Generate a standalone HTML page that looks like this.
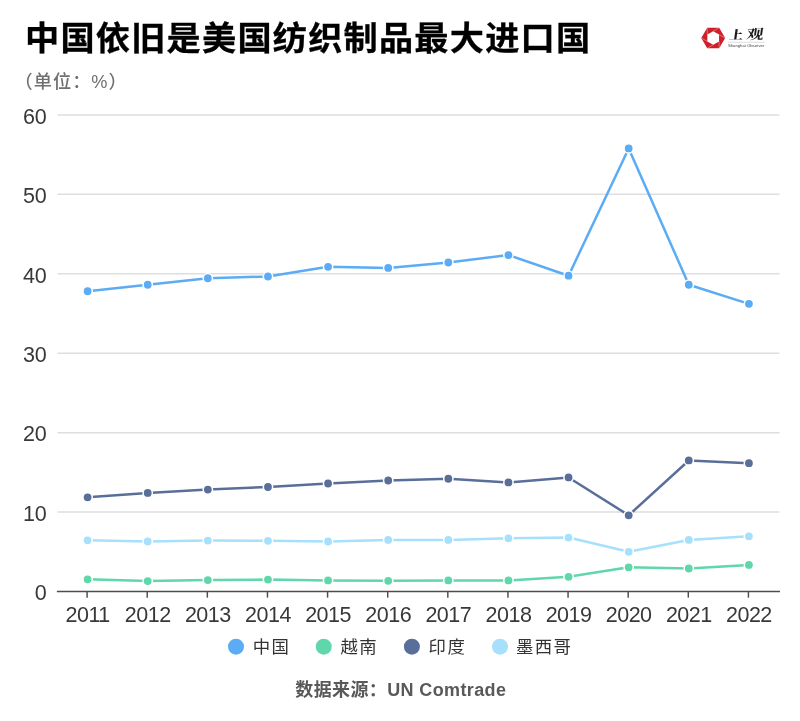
<!DOCTYPE html>
<html lang="zh-CN">
<head>
<meta charset="utf-8">
<title>中国依旧是美国纺织制品最大进口国</title>
<style>
html,body{margin:0;padding:0;background:#fff;}
body{width:800px;height:721px;overflow:hidden;font-family:"Liberation Sans", "Noto Sans CJK SC", sans-serif;}
svg{display:block;will-change:transform;}
svg text{font-family:"Liberation Sans", "Noto Sans CJK SC", sans-serif;}
.title{font-size:34.2px;font-weight:700;fill:#000;stroke:#000;stroke-width:0.3px;letter-spacing:1.2px;}
.sub{font-size:18.2px;font-weight:500;fill:#707070;letter-spacing:1.0px;}
.ylab{font-size:21.5px;fill:#383838;text-anchor:end;}
.xlab{font-size:21.5px;fill:#383838;text-anchor:middle;letter-spacing:-0.5px;}
.leg{font-size:17.4px;fill:#333;letter-spacing:1.4px;}
.src{font-size:18px;font-weight:700;fill:#595959;letter-spacing:0.38px;}
svg text.lg{font-family:"Liberation Serif", "Noto Serif CJK SC", serif;font-size:14px;font-weight:900;fill:#1a1a1a;}
.grid line{stroke:#dedede;stroke-width:1.5;}
.axis line{stroke:#4d4d4d;stroke-width:1.45;}
.ln{fill:none;stroke-width:2.5;stroke-linejoin:round;stroke-linecap:round;}
.pt circle{stroke:#fff;stroke-width:1.5;}
</style>
</head>
<body>
<svg width="800" height="721" viewBox="0 0 800 721">
<text class="title" transform="translate(25.0,50.3) scale(1,0.97)">中国依旧是美国纺织制品最大进口国</text>
<text class="sub" x="14.6" y="87.8">（单位：%）</text>
<g id="logo">
<polygon fill="#CF1F2B" points="725.15,38.00 719.18,48.35 707.23,48.35 701.25,38.00 707.23,27.65 719.18,27.65"/>
<polygon fill="#fff" points="719.05,41.38 713.20,44.75 707.35,41.38 707.35,34.62 713.20,31.25 719.05,34.62"/>
<line x1="713.20" y1="31.25" x2="719.18" y2="27.65" stroke="#fff" stroke-width="0.5" stroke-opacity="0.7"/>
<line x1="719.05" y1="34.62" x2="725.15" y2="38.00" stroke="#fff" stroke-width="0.5" stroke-opacity="0.7"/>
<line x1="719.05" y1="41.38" x2="719.18" y2="48.35" stroke="#fff" stroke-width="0.5" stroke-opacity="0.7"/>
<line x1="713.20" y1="44.75" x2="707.23" y2="48.35" stroke="#fff" stroke-width="0.5" stroke-opacity="0.7"/>
<line x1="707.35" y1="41.38" x2="701.25" y2="38.00" stroke="#fff" stroke-width="0.5" stroke-opacity="0.7"/>
<line x1="707.35" y1="34.62" x2="707.23" y2="27.65" stroke="#fff" stroke-width="0.5" stroke-opacity="0.7"/>
<text class="lg" transform="translate(728.8,38.6) skewX(-8) scale(1.0,0.86)">上</text>
<text class="lg" style="font-weight:700" transform="translate(746.1,38.5) skewX(-8) scale(1.22,0.98)">观</text>
<line x1="727.9" x2="764.8" y1="42.3" y2="42.3" stroke="#c8c8c8" stroke-width="0.6"/>
<text x="727.9" y="47.3" font-size="4.3" fill="#444" textLength="36.4" lengthAdjust="spacingAndGlyphs">Shanghai Observer</text>
</g>
<g class="grid">
<line x1="57.6" x2="779.5" y1="512.11" y2="512.11"/>
<line x1="57.6" x2="779.5" y1="432.67" y2="432.67"/>
<line x1="57.6" x2="779.5" y1="353.23" y2="353.23"/>
<line x1="57.6" x2="779.5" y1="273.79" y2="273.79"/>
<line x1="57.6" x2="779.5" y1="194.35" y2="194.35"/>
<line x1="57.6" x2="779.5" y1="114.91" y2="114.91"/>
</g>
<g>
<text class="ylab" x="46.8" y="600.35">0</text>
<text class="ylab" x="46.8" y="520.91">10</text>
<text class="ylab" x="46.8" y="441.47">20</text>
<text class="ylab" x="46.8" y="362.03">30</text>
<text class="ylab" x="46.8" y="282.59">40</text>
<text class="ylab" x="46.8" y="203.15">50</text>
<text class="ylab" x="46.8" y="123.71">60</text>
</g>
<g class="axis">
<line x1="56.9" x2="780" y1="591.55" y2="591.55"/>
<line x1="87.10" x2="87.10" y1="591.55" y2="597.65" stroke-width="1.5"/>
<line x1="147.22" x2="147.22" y1="591.55" y2="597.65" stroke-width="1.5"/>
<line x1="207.34" x2="207.34" y1="591.55" y2="597.65" stroke-width="1.5"/>
<line x1="267.46" x2="267.46" y1="591.55" y2="597.65" stroke-width="1.5"/>
<line x1="327.58" x2="327.58" y1="591.55" y2="597.65" stroke-width="1.5"/>
<line x1="387.70" x2="387.70" y1="591.55" y2="597.65" stroke-width="1.5"/>
<line x1="447.82" x2="447.82" y1="591.55" y2="597.65" stroke-width="1.5"/>
<line x1="507.94" x2="507.94" y1="591.55" y2="597.65" stroke-width="1.5"/>
<line x1="568.06" x2="568.06" y1="591.55" y2="597.65" stroke-width="1.5"/>
<line x1="628.18" x2="628.18" y1="591.55" y2="597.65" stroke-width="1.5"/>
<line x1="688.30" x2="688.30" y1="591.55" y2="597.65" stroke-width="1.5"/>
<line x1="748.42" x2="748.42" y1="591.55" y2="597.65" stroke-width="1.5"/>
</g>
<g>
<text class="xlab" x="87.60" y="621.6">2011</text>
<text class="xlab" x="147.72" y="621.6">2012</text>
<text class="xlab" x="207.84" y="621.6">2013</text>
<text class="xlab" x="267.96" y="621.6">2014</text>
<text class="xlab" x="328.08" y="621.6">2015</text>
<text class="xlab" x="388.20" y="621.6">2016</text>
<text class="xlab" x="448.32" y="621.6">2017</text>
<text class="xlab" x="508.44" y="621.6">2018</text>
<text class="xlab" x="568.56" y="621.6">2019</text>
<text class="xlab" x="628.68" y="621.6">2020</text>
<text class="xlab" x="688.80" y="621.6">2021</text>
<text class="xlab" x="748.92" y="621.6">2022</text>
</g>
<polyline class="ln" stroke="#5BACF4" points="87.60,291.27 147.72,284.75 207.84,278.24 267.96,276.49 328.08,266.80 388.20,267.91 448.32,262.51 508.44,255.04 568.56,275.70 628.68,148.43 688.80,284.75 748.92,303.82"/>
<g class="pt" fill="#5BACF4">
<circle cx="87.60" cy="291.27" r="4.65"/>
<circle cx="147.72" cy="284.75" r="4.65"/>
<circle cx="207.84" cy="278.24" r="4.65"/>
<circle cx="267.96" cy="276.49" r="4.65"/>
<circle cx="328.08" cy="266.80" r="4.65"/>
<circle cx="388.20" cy="267.91" r="4.65"/>
<circle cx="448.32" cy="262.51" r="4.65"/>
<circle cx="508.44" cy="255.04" r="4.65"/>
<circle cx="568.56" cy="275.70" r="4.65"/>
<circle cx="628.68" cy="148.43" r="4.65"/>
<circle cx="688.80" cy="284.75" r="4.65"/>
<circle cx="748.92" cy="303.82" r="4.65"/>
</g>
<polyline class="ln" stroke="#60D7AA" points="87.60,579.32 147.72,581.06 207.84,580.03 267.96,579.55 328.08,580.43 388.20,580.83 448.32,580.43 508.44,580.43 568.56,576.85 628.68,567.32 688.80,568.51 748.92,564.94"/>
<g class="pt" fill="#60D7AA">
<circle cx="87.60" cy="579.32" r="4.65"/>
<circle cx="147.72" cy="581.06" r="4.65"/>
<circle cx="207.84" cy="580.03" r="4.65"/>
<circle cx="267.96" cy="579.55" r="4.65"/>
<circle cx="328.08" cy="580.43" r="4.65"/>
<circle cx="388.20" cy="580.83" r="4.65"/>
<circle cx="448.32" cy="580.43" r="4.65"/>
<circle cx="508.44" cy="580.43" r="4.65"/>
<circle cx="568.56" cy="576.85" r="4.65"/>
<circle cx="628.68" cy="567.32" r="4.65"/>
<circle cx="688.80" cy="568.51" r="4.65"/>
<circle cx="748.92" cy="564.94" r="4.65"/>
</g>
<polyline class="ln" stroke="#5A6E9A" points="87.60,497.33 147.72,492.89 207.84,489.55 267.96,487.01 328.08,483.51 388.20,480.49 448.32,478.75 508.44,482.40 568.56,477.47 628.68,515.29 688.80,460.47 748.92,463.17"/>
<g class="pt" fill="#5A6E9A">
<circle cx="87.60" cy="497.33" r="4.65"/>
<circle cx="147.72" cy="492.89" r="4.65"/>
<circle cx="207.84" cy="489.55" r="4.65"/>
<circle cx="267.96" cy="487.01" r="4.65"/>
<circle cx="328.08" cy="483.51" r="4.65"/>
<circle cx="388.20" cy="480.49" r="4.65"/>
<circle cx="448.32" cy="478.75" r="4.65"/>
<circle cx="508.44" cy="482.40" r="4.65"/>
<circle cx="568.56" cy="477.47" r="4.65"/>
<circle cx="628.68" cy="515.29" r="4.65"/>
<circle cx="688.80" cy="460.47" r="4.65"/>
<circle cx="748.92" cy="463.17" r="4.65"/>
</g>
<polyline class="ln" stroke="#A6E0FB" points="87.60,540.31 147.72,541.50 207.84,540.55 267.96,540.79 328.08,541.50 388.20,539.91 448.32,539.91 508.44,538.33 568.56,537.53 628.68,551.83 688.80,539.91 748.92,536.34"/>
<g class="pt" fill="#A6E0FB">
<circle cx="87.60" cy="540.31" r="4.65"/>
<circle cx="147.72" cy="541.50" r="4.65"/>
<circle cx="207.84" cy="540.55" r="4.65"/>
<circle cx="267.96" cy="540.79" r="4.65"/>
<circle cx="328.08" cy="541.50" r="4.65"/>
<circle cx="388.20" cy="539.91" r="4.65"/>
<circle cx="448.32" cy="539.91" r="4.65"/>
<circle cx="508.44" cy="538.33" r="4.65"/>
<circle cx="568.56" cy="537.53" r="4.65"/>
<circle cx="628.68" cy="551.83" r="4.65"/>
<circle cx="688.80" cy="539.91" r="4.65"/>
<circle cx="748.92" cy="536.34" r="4.65"/>
</g>
<g>
<circle cx="236.00" cy="646.7" r="8" fill="#5BACF4"/>
<text class="leg" x="252.80" y="653.2">中国</text>
<circle cx="323.75" cy="646.7" r="8" fill="#60D7AA"/>
<text class="leg" x="340.50" y="653.2">越南</text>
<circle cx="411.90" cy="646.7" r="8" fill="#5A6E9A"/>
<text class="leg" x="428.60" y="653.2">印度</text>
<circle cx="500.00" cy="646.7" r="8" fill="#A6E0FB"/>
<text class="leg" x="516.00" y="653.2">墨西哥</text>
</g>
<text class="src" x="295.3" y="696">数据来源：UN Comtrade</text>
</svg>
</body>
</html>
